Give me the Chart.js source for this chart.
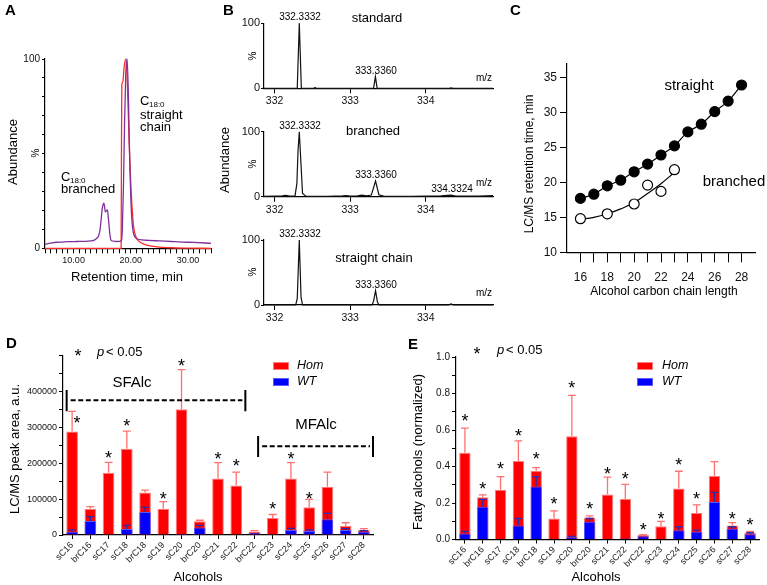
<!DOCTYPE html>
<html>
<head>
<meta charset="utf-8">
<title>Fatty alcohols</title>
<script src="https://cdn.jsdelivr.net/npm/chart.js@4.4.1/dist/chart.umd.min.js"></script>
<style>
  html, body { margin: 0; padding: 0; background: #fff; }
  #page { position: relative; width: 767px; height: 585px; overflow: hidden; }
  #page canvas { position: absolute; left: 0; top: 0; }
</style>
</head>
<body>
<div id="page">
  <canvas id="chartA" width="767" height="585"></canvas>
  <canvas id="chartB1" width="767" height="585"></canvas>
  <canvas id="chartB2" width="767" height="585"></canvas>
  <canvas id="chartB3" width="767" height="585"></canvas>
  <canvas id="chartC" width="767" height="585"></canvas>
  <canvas id="chartD" width="767" height="585"></canvas>
  <canvas id="chartE" width="767" height="585"></canvas>
</div>
<script>
// ---- A: chromatogram, [retention time, abundance %]
const standardTrace = [[5, 0], [18.3, 0], [18.35, 45], [18.42, 86], [18.6, 88], [18.8, 95], [19.1, 100], [19.4, 86],
    [19.7, 56], [20.0, 33], [20.2, 22], [20.5, 11], [21, 5.3], [21.5, 3.5], [22, 2.6], [23, 1.5], [24.5, 0.8],
    [27, 0.3], [30, 0.1], [34, 0]];
const sampleTrace = [[5, 2.1], [6, 2.7], [7, 3.2], [8, 3.3], [9, 3.5], [10, 3.5], [11, 3.7], [12, 3.7], [13, 3.9],
    [13.6, 4.3], [14.0, 5.2], [14.3, 6.2], [14.6, 9.5], [14.8, 15], [15.0, 21], [15.3, 23.8], [15.55, 19.2],
    [15.9, 20.3], [16.1, 15], [16.35, 7], [16.6, 4.0], [17, 3.8], [17.5, 3.6], [18, 3.7], [18.35, 4.2], [18.5, 9],
    [18.7, 32], [18.9, 66], [19.1, 91], [19.35, 100], [19.6, 76], [19.8, 46], [20.0, 26], [20.2, 14], [20.4, 8.8],
    [20.7, 6], [21.2, 4.9], [22, 4.4], [23, 4.2], [25, 3.9], [27, 3.6], [29, 3.3], [31, 3.1], [33, 2.8], [34, 2.6]];

// ---- B: mass spectra, [m/z, %]
const specStandard = [[331.86, 0], [332.30, 0], [332.327, 100], [332.354, 0], [332.52, 0], [332.535, 1.2], [332.55, 0],
    [333.31, 0], [333.334, 18], [333.357, 0], [334.31, 0], [334.335, 0.8], [334.36, 0], [334.89, 0]];
const specBranched = [[331.86, 0.5], [332.0, 0.8], [332.1, 1.2], [332.15, 2], [332.2, 1], [332.27, 1], [332.295, 20],
    [332.31, 70], [332.327, 100], [332.345, 60], [332.37, 5], [332.42, 0.5], [332.7, 0.5], [332.9, 1.2], [332.95, 1.8],
    [333.0, 1], [333.1, 1.5], [333.15, 2.5], [333.22, 1.5], [333.28, 2.5], [333.336, 24], [333.38, 3], [333.45, 0.5],
    [333.8, 0.5], [334.0, 1], [334.2, 1.5], [334.33, 2.5], [334.4, 1], [334.7, 1], [334.89, 1.8]];
const specStraight = [[331.86, 0], [332.28, 0], [332.30, 10], [332.327, 100], [332.35, 12], [332.37, 0], [333.29, 0],
    [333.31, 6], [333.336, 22], [333.36, 5], [333.38, 0], [334.30, 0], [334.335, 1.8], [334.37, 0], [334.89, 0]];

// ---- C: retention time vs chain length
const chainStraight = [16, 17, 18, 19, 20, 21, 22, 23, 24, 25, 26, 27, 28];
const rtStraight = [17.7, 18.3, 19.5, 20.3, 21.5, 22.6, 23.9, 25.2, 27.2, 28.3, 30.1, 31.6, 33.9];
const chainBranched = [16, 18, 20, 21, 22, 23];
const rtBranched = [14.8, 15.5, 16.9, 19.6, 18.7, 21.8];
const fitBranchedX = [16, 17, 18, 19, 20, 21, 22, 23];
const fitBranchedY = [14.7, 15.0, 15.5, 16.2, 17.1, 18.4, 19.8, 21.4];

// ---- D / E: alcohols
const alcohols = ['sC16', 'brC16', 'sC17', 'sC18', 'brC18', 'sC19', 'sC20', 'brC20', 'sC21', 'sC22', 'brC22',
    'sC23', 'sC24', 'sC25', 'sC26', 'sC27', 'sC28'];
const homArea = [288000, 73000, 173000, 240000, 118000, 73000, 350000, 38000, 157000, 138000, 10000, 47000, 157000, 77000, 134000, 25000, 14000];
const homAreaErr = [56000, 6000, 29000, 49000, 7000, 20000, 110000, 3000, 44000, 37000, 2000, 10000, 44000, 22000, 41000, 9000, 3500];
const wtArea = [9000, 39000, 1000, 17000, 64000, 1000, 3000, 21000, 1500, 1500, 6500, 1000, 14000, 11000, 44000, 14000, 9000];
const wtAreaErr = [5000, 12000, 0, 10000, 13000, 0, 0, 6000, 0, 0, 0, 0, 4500, 3000, 16000, 3500, 3000];
const starArea = [324000, null, 227000, 315000, null, 113000, 481000, null, 224000, 204000, null, 85000, 224000, 113000, null, null, null];

const homNorm = [0.476, 0.232, 0.272, 0.43, 0.377, 0.115, 0.566, 0.121, 0.247, 0.222, 0.024, 0.073, 0.28, 0.145, 0.348, 0.077, 0.038];
const homNormErr = [0.134, 0.013, 0.073, 0.11, 0.017, 0.042, 0.224, 0.009, 0.095, 0.08, 0.003, 0.026, 0.094, 0.045, 0.079, 0.015, 0.006];
const wtNorm = [0.033, 0.18, 0.003, 0.077, 0.29, 0.003, 0.012, 0.097, 0.003, 0.006, 0.018, 0.003, 0.051, 0.042, 0.205, 0.059, 0.029];
const wtNormErr = [0.012, 0.04, 0, 0.038, 0.055, 0, 0.005, 0.018, 0, 0, 0, 0, 0.019, 0.009, 0.053, 0.011, 0.008];
const starNorm = [0.674, 0.302, 0.412, 0.588, 0.467, 0.22, 0.852, 0.192, 0.381, 0.357, 0.073, 0.137, 0.43, 0.247, null, 0.137, 0.103];

const W = 767, H = 585;
const FONT = '"Liberation Sans", Arial, Helvetica, sans-serif';
Chart.defaults.font.family = FONT;
Chart.defaults.color = '#000';
Chart.defaults.animation = false;
Chart.defaults.responsive = false;
Chart.defaults.plugins.legend.display = false;
Chart.defaults.plugins.tooltip.enabled = false;

// plot area in page pixels -> padding + fixed axis sizes
function frame(l, t, r, b, yw, xh) {
    return {
        padding: { left: l - yw, top: t, right: W - r, bottom: H - b - xh },
        yFit: function (s) { s.width = yw; },
        xFit: function (s) { s.height = xh; }
    };
}

function linAxis(min, max, step, fmt, size, tick, pad, fit) {
    return {
        type: 'linear', min: min, max: max,
        grid: { drawOnChartArea: false, color: '#000', tickLength: tick },
        border: { color: '#000', width: 1.2 },
        ticks: {
            stepSize: step, includeBounds: false, autoSkip: false, maxRotation: 0,
            padding: pad, font: { size: size }, color: '#111', callback: fmt
        },
        afterFit: fit
    };
}

function toXY(pairs) {
    return pairs.map(function (p) { return { x: p[0], y: p[1] }; });
}

function notes(items) {
    return {
        id: 'notes',
        afterDraw: function (chart) {
            const ctx = chart.ctx;
            items.forEach(function (n) {
                ctx.save();
                if (n.rect) {
                    ctx.fillStyle = n.fill;
                    ctx.fillRect(n.rect[0], n.rect[1], n.rect[2], n.rect[3]);
                    ctx.strokeStyle = n.stroke;
                    ctx.lineWidth = 1;
                    ctx.strokeRect(n.rect[0] + 0.5, n.rect[1] + 0.5, n.rect[2] - 1, n.rect[3] - 1);
                    ctx.restore();
                    return;
                }
                const size = n.size || 13;
                ctx.font = (n.style ? n.style + ' ' : '') + size + 'px ' + FONT;
                ctx.fillStyle = '#000';
                ctx.textAlign = n.align || 'center';
                ctx.translate(n.x, n.y);
                if (n.rot) ctx.rotate(n.rot * Math.PI / 180);
                if (n.t === '*') {
                    ctx.textBaseline = 'alphabetic';
                    ctx.fillText('*', 0, size * 0.57);
                } else {
                    ctx.textBaseline = 'middle';
                    ctx.fillText(n.t, 0, 0);
                }
                ctx.restore();
            });
        }
    };
}

const errorBars = {
    id: 'errorBars',
    afterDatasetsDraw: function (chart) {
        const ctx = chart.ctx, ys = chart.scales.y;
        chart.data.datasets.forEach(function (ds, di) {
            if (!ds.errorPlus) return;
            chart.getDatasetMeta(di).data.forEach(function (bar, i) {
                const e = ds.errorPlus[i];
                if (!e) return;
                const top = ys.getPixelForValue(ds.data[i] + e);
                const half = bar.width * 0.34;
                ctx.save();
                ctx.strokeStyle = ds.errorColor;
                ctx.lineWidth = 1.3;
                ctx.beginPath();
                ctx.moveTo(bar.x, bar.y);
                ctx.lineTo(bar.x, top);
                ctx.moveTo(bar.x - half, top);
                ctx.lineTo(bar.x + half, top);
                ctx.stroke();
                ctx.restore();
            });
        });
    }
};

function stars(values, shift) {
    return {
        id: 'stars',
        afterDatasetsDraw: function (chart) {
            const xs = chart.scales.x, ys = chart.scales.y, ctx = chart.ctx;
            ctx.save();
            ctx.font = '18px ' + FONT;
            ctx.fillStyle = '#000';
            ctx.textAlign = 'center';
            ctx.textBaseline = 'alphabetic';
            values.forEach(function (v, i) {
                if (v === null) return;
                const dx = shift ? (shift[i] || 0) : 0;
                ctx.fillText('*', xs.getPixelForValue(i) + dx, ys.getPixelForValue(v) + 18 * 0.57);
            });
            ctx.restore();
        }
    };
}

function brackets(items) {
    return {
        id: 'brackets',
        afterDatasetsDraw: function (chart) {
            const xs = chart.scales.x, ys = chart.scales.y, ctx = chart.ctx;
            items.forEach(function (b) {
                const x0 = xs.getPixelForValue(b.from), x1 = xs.getPixelForValue(b.to);
                const y = ys.getPixelForValue(b.level);
                const ya = ys.getPixelForValue(b.hi), yb = ys.getPixelForValue(b.lo);
                ctx.save();
                ctx.strokeStyle = '#000';
                ctx.lineWidth = 2;
                ctx.beginPath();
                ctx.moveTo(x0, ya); ctx.lineTo(x0, yb);
                ctx.moveTo(x1, ya); ctx.lineTo(x1, yb);
                ctx.stroke();
                ctx.setLineDash([5, 2.6]);
                ctx.beginPath();
                ctx.moveTo(x0 + 4, y); ctx.lineTo(x1 - 3, y);
                ctx.stroke();
                ctx.restore();
            });
        }
    };
}

// ---------- A ----------
const fA = frame(45, 59, 211, 248.3, 40, 30);
new Chart('chartA', {
    type: 'line',
    data: {
        datasets: [
            { data: toXY(standardTrace), borderColor: '#ff2a2a', borderWidth: 1.3, pointRadius: 0,
              cubicInterpolationMode: 'monotone', clip: 4, order: 2 },
            { data: toXY(sampleTrace), borderColor: '#80309a', borderWidth: 1.3, pointRadius: 0,
              cubicInterpolationMode: 'monotone', clip: 4, order: 1 }
        ]
    },
    options: {
        layout: { padding: fA.padding },
        scales: {
            x: linAxis(5, 34, 1, function (v) { return v % 10 === 0 ? v.toFixed(2) : ''; }, 9, 5, 2, fA.xFit),
            y: linAxis(0, 100, 10, function (v) { return (v === 0 || v === 100) ? String(v) : ''; }, 10, 3, 2, fA.yFit)
        }
    },
    plugins: [notes([
        { t: 'A', x: 5, y: 11, size: 15, style: 'bold', align: 'left' },
        { t: 'Abundance', x: 13, y: 152, size: 13, rot: -90 },
        { t: '%', x: 36, y: 153, size: 10, rot: -90 },
        { t: 'Retention time, min', x: 127, y: 277, size: 13 },
        { t: 'C', x: 61, y: 177, size: 13, align: 'left' },
        { t: '18:0', x: 70, y: 181, size: 8, align: 'left' },
        { t: 'branched', x: 61, y: 189, size: 13, align: 'left' },
        { t: 'C', x: 140, y: 101, size: 13, align: 'left' },
        { t: '18:0', x: 149, y: 105, size: 8, align: 'left' },
        { t: 'straight', x: 140, y: 115, size: 13, align: 'left' },
        { t: 'chain', x: 140, y: 127, size: 13, align: 'left' }
    ])]
});

// ---------- B ----------
function spectrum(id, trace, top, bottom, items) {
    const f = frame(264, top, 493, bottom, 30, 20);
    new Chart(id, {
        type: 'line',
        data: {
            datasets: [{ data: toXY(trace), borderColor: '#111', borderWidth: 1.2, pointRadius: 0, tension: 0, clip: 3 }]
        },
        options: {
            layout: { padding: f.padding },
            scales: {
                x: linAxis(331.86, 334.89, 1, function (v) { return String(v); }, 10.5, 5, 2, f.xFit),
                y: linAxis(0, 100, 100, function (v) { return String(v); }, 11, 3, 1, f.yFit)
            }
        },
        plugins: [notes(items)]
    });
}

spectrum('chartB1', specStandard, 23.3, 88.3, [
    { t: 'B', x: 223, y: 11, size: 15, style: 'bold', align: 'left' },
    { t: 'Abundance', x: 225, y: 160, size: 13, rot: -90 },
    { t: '%', x: 253, y: 56, size: 10, rot: -90 },
    { t: '332.3332', x: 300, y: 17, size: 10 },
    { t: 'standard', x: 377, y: 18, size: 13 },
    { t: '333.3360', x: 376, y: 71, size: 10 },
    { t: 'm/z', x: 492, y: 78, size: 10, align: 'right' }
]);
spectrum('chartB2', specBranched, 131.7, 196.7, [
    { t: '%', x: 253, y: 164, size: 10, rot: -90 },
    { t: '332.3332', x: 300, y: 126, size: 10 },
    { t: 'branched', x: 373, y: 131, size: 13 },
    { t: '333.3360', x: 376, y: 175, size: 10 },
    { t: 'm/z', x: 492, y: 183, size: 10, align: 'right' },
    { t: '334.3324', x: 452, y: 189, size: 10 }
]);
spectrum('chartB3', specStraight, 240, 305, [
    { t: '%', x: 253, y: 272, size: 10, rot: -90 },
    { t: '332.3332', x: 300, y: 234, size: 10 },
    { t: 'straight chain', x: 374, y: 258, size: 13 },
    { t: '333.3360', x: 376, y: 285, size: 10 },
    { t: 'm/z', x: 492, y: 293, size: 10, align: 'right' }
]);

// ---------- C ----------
const fC = frame(567, 63.3, 755, 252.3, 40, 30);
const axC = linAxis(15, 29, 1, function (v) { return v % 2 === 0 ? String(v) : ''; }, 12, 10, 8, fC.xFit);
axC.afterBuildTicks = function (s) { s.ticks = s.ticks.filter(function (t) { return t.value >= 16 && t.value <= 28; }); };
new Chart('chartC', {
    type: 'scatter',
    data: {
        datasets: [
            { data: chainStraight.map(function (x, i) { return { x: x, y: rtStraight[i] }; }), showLine: true,
              tension: 0.3, borderColor: '#000', borderWidth: 1.2, pointRadius: 5, pointBackgroundColor: '#000',
              pointBorderColor: '#000', order: 1 },
            { data: fitBranchedX.map(function (x, i) { return { x: x, y: fitBranchedY[i] }; }), showLine: true,
              tension: 0.4, borderColor: '#000', borderWidth: 1.2, pointRadius: 0, order: 3 },
            { data: chainBranched.map(function (x, i) { return { x: x, y: rtBranched[i] }; }), showLine: false,
              pointRadius: 5, pointBackgroundColor: '#fff', pointBorderColor: '#000', pointBorderWidth: 1.2, order: 2 }
        ]
    },
    options: {
        layout: { padding: fC.padding },
        scales: {
            x: axC,
            y: linAxis(10, 37, 5, function (v) { return String(v); }, 12, 7, 3, fC.yFit)
        }
    },
    plugins: [notes([
        { t: 'C', x: 510, y: 11, size: 15, style: 'bold', align: 'left' },
        { t: 'LC/MS retention time, min', x: 530, y: 164, size: 12, rot: -90 },
        { t: 'Alcohol carbon chain length', x: 664, y: 292, size: 12 },
        { t: 'straight', x: 689, y: 86, size: 15 },
        { t: 'branched', x: 734, y: 182, size: 15 }
    ])]
});

// ---------- D / E ----------
function barPanel(id, f, yMax, yStep, yFmt, yFont, hom, homErr, wt, wtErr, extra, items) {
    const xAxis = {
        type: 'category', offset: true,
        grid: { drawOnChartArea: false, offset: false, color: '#000', tickLength: 4 },
        border: { color: '#000', width: 1.2 },
        ticks: { autoSkip: false, minRotation: 45, maxRotation: 45, padding: 1, font: { size: 9 }, color: '#222' },
        afterFit: f.xFit
    };
    new Chart(id, {
        type: 'bar',
        data: {
            labels: alcohols,
            datasets: [
                { label: 'Hom', data: hom, backgroundColor: '#ff0000', borderColor: '#ff7a7a', borderWidth: 1,
                  errorPlus: homErr, errorColor: '#ff7070', order: 2, grouped: false,
                  barPercentage: 0.64, categoryPercentage: 1 },
                { label: 'WT', data: wt, backgroundColor: '#0000ff', borderColor: '#5a5aff', borderWidth: 1,
                  errorPlus: wtErr, errorColor: '#2a2ab0', order: 1, grouped: false,
                  barPercentage: 0.64, categoryPercentage: 1 }
            ]
        },
        options: {
            layout: { padding: f.padding },
            scales: {
                x: xAxis,
                y: linAxis(0, yMax, yStep, yFmt, yFont, 4, 2, f.yFit)
            }
        },
        plugins: [errorBars].concat(extra, [notes(items)])
    });
}

const fD = frame(63, 355.2, 373, 535, 63, 50);
barPanel('chartD', fD, 500000, 50000,
    function (v) { return (Math.round(v / 50000) % 2 === 0 && v < 450000) ? String(Math.round(v)) : ''; }, 9,
    homArea, homAreaErr, wtArea, wtAreaErr,
    [stars(starArea, [5]), brackets([
        { from: -0.3, to: 9.5, level: 375000, hi: 403000, lo: 344000 },
        { from: 10.2, to: 16.5, level: 247000, hi: 275000, lo: 217000 }
    ])],
    [
        { t: 'D', x: 6, y: 344, size: 15, style: 'bold', align: 'left' },
        { t: '*', x: 78, y: 352, size: 18 },
        { t: 'p', x: 97, y: 352, size: 13, style: 'italic', align: 'left' },
        { t: '< 0.05', x: 106, y: 352, size: 13, align: 'left' },
        { t: 'SFAlc', x: 132, y: 383, size: 15 },
        { t: 'MFAlc', x: 316, y: 425, size: 15 },
        { rect: [273, 362, 16, 8], fill: '#ff0000', stroke: '#ff7a7a' },
        { rect: [273, 378, 16, 8], fill: '#0000ff', stroke: '#5a5aff' },
        { t: 'Hom', x: 297, y: 366, size: 12.5, style: 'italic', align: 'left' },
        { t: 'WT', x: 297, y: 382, size: 12.5, style: 'italic', align: 'left' },
        { t: 'LC/MS peak area, a.u.', x: 15, y: 449, size: 13, rot: -90 },
        { t: 'Alcohols', x: 198, y: 577, size: 13 }
    ]);

const fE = frame(456, 357, 759, 539.5, 50, 45);
barPanel('chartE', fE, 1.0, 0.1, function (v) { return Math.round(v * 10) % 2 === 0 ? v.toFixed(1) : ''; }, 10,
    homNorm, homNormErr, wtNorm, wtNormErr,
    [stars(starNorm)],
    [
        { t: 'E', x: 408, y: 345, size: 15, style: 'bold', align: 'left' },
        { t: '*', x: 477, y: 350, size: 18 },
        { t: 'p', x: 497, y: 350, size: 13, style: 'italic', align: 'left' },
        { t: '< 0.05', x: 506, y: 350, size: 13, align: 'left' },
        { rect: [637, 362, 16, 8], fill: '#ff0000', stroke: '#ff7a7a' },
        { rect: [637, 378, 16, 8], fill: '#0000ff', stroke: '#5a5aff' },
        { t: 'Hom', x: 662, y: 366, size: 12.5, style: 'italic', align: 'left' },
        { t: 'WT', x: 662, y: 382, size: 12.5, style: 'italic', align: 'left' },
        { t: 'Fatty alcohols (normalized)', x: 418, y: 452, size: 13, rot: -90 },
        { t: 'Alcohols', x: 596, y: 577, size: 13 }
    ]);
</script>
</body>
</html>
